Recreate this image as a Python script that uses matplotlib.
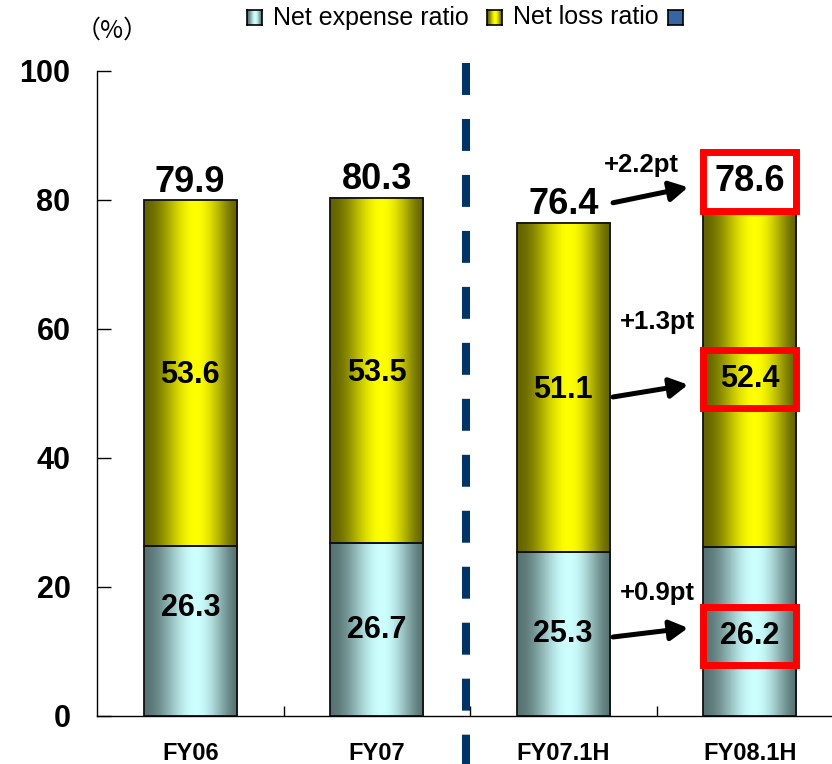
import numpy as np
import matplotlib
matplotlib.use("Agg")
import matplotlib.pyplot as plt
from matplotlib.patches import Rectangle
from matplotlib.patches import ArrowStyle

plt.rcParams["font.family"] = ["Liberation Sans", "DejaVu Sans"]
plt.rcParams["lines.scale_dashes"] = False

# ---- data ----
categories = ["FY06", "FY07", "FY07.1H", "FY08.1H"]
expense_ratio = [26.3, 26.7, 25.3, 26.2]
loss_ratio = [53.6, 53.5, 51.1, 52.4]
combined_ratio = [79.9, 80.3, 76.4, 78.6]
change_labels = ["+2.2pt", "+1.3pt", "+0.9pt"]
legend_labels = ["Net expense ratio", "Net loss ratio", ""]
yticks = [0, 20, 40, 60, 80, 100]

W, H = 832, 764
fig = plt.figure(figsize=(W / 100, H / 100), dpi=100)
ax = fig.add_axes([97 / W, (H - 715.7) / H, 746 / W, (715.7 - 70.5) / H])

BAR_W = 0.5


def shade_row(edge, center, n=128, peak=0.55):
    u = np.linspace(0, 1, n)
    u = u ** (np.log(0.5) / np.log(peak))
    f = np.sin(np.pi * u) ** 1.6
    edge = np.array(edge) / 255.0
    center = np.array(center) / 255.0
    row = edge[None, :] + (center - edge)[None, :] * f[:, None]
    return row[None, :, :]


cyan_img = shade_row((88, 115, 115), (205, 255, 255))
yellow_img = shade_row((100, 100, 0), (255, 255, 0))


def shaded_bar(x, y0, h, img):
    x0, x1 = x - BAR_W / 2, x + BAR_W / 2
    ax.imshow(img, extent=[x0, x1, y0, y0 + h], aspect="auto",
              interpolation="bilinear", zorder=2)
    ax.add_patch(Rectangle((x0, y0), BAR_W, h, facecolor="none",
                           edgecolor="#111111", linewidth=1.3, zorder=3))


xs = np.arange(len(categories))
for i, x in enumerate(xs):
    shaded_bar(x, 0, expense_ratio[i], cyan_img)
    shaded_bar(x, expense_ratio[i], loss_ratio[i], yellow_img)

ax.set_xlim(-0.5, 3.5)
ax.set_ylim(0, 100)

# axes styling
for s in ("top", "right"):
    ax.spines[s].set_visible(False)
ax.spines["left"].set_linewidth(1.0)
ax.spines["bottom"].set_linewidth(1.0)
ax.set_yticks(yticks)
ax.set_yticklabels([str(v) for v in yticks], fontsize=22, fontweight="bold")
ax.tick_params(axis="y", direction="in", length=10, width=1, pad=19)
ax.set_xticks(xs)
ax.set_xticklabels(categories, fontsize=17, fontweight="bold")
ax.tick_params(axis="x", which="major", length=0, pad=19)
ax.set_xticks(xs[:-1] + 0.5, minor=True)
ax.tick_params(axis="x", which="minor", direction="in", length=7, width=1)

# segment labels (the latest bar is labelled inside its boxes below)
exp_lift = [3.5, 0, 0]
for i in range(3):
    x = xs[i]
    ax.text(x, expense_ratio[i] / 2 + exp_lift[i], f"{expense_ratio[i]:.1f}",
            ha="center", va="center", fontsize=22, fontweight="bold", zorder=5)
    ax.text(x, expense_ratio[i] + loss_ratio[i] / 2 - 0.3, f"{loss_ratio[i]:.1f}",
            ha="center", va="center", fontsize=22, fontweight="bold", zorder=5)

# combined ratio labels above the first three bars
for i in range(3):
    ax.annotate(f"{combined_ratio[i]:.1f}", (xs[i], combined_ratio[i]),
                xytext=(0, 6), textcoords="offset points", ha="center",
                va="baseline", fontsize=26, fontweight="bold", zorder=5)

# highlighted boxes on the latest half-year bar
last = xs[-1]
box_h = 9.1
box_centers = [82.75, expense_ratio[-1] + loss_ratio[-1] / 2 - 0.2, 12.35]
box_texts = [combined_ratio[-1], loss_ratio[-1], expense_ratio[-1]]
box_sizes = [26, 22, 22]
for k, (cy, val, fs) in enumerate(zip(box_centers, box_texts, box_sizes)):
    ax.add_patch(Rectangle((last - BAR_W / 2, cy - box_h / 2), BAR_W, box_h,
                           facecolor="white" if k == 0 else "none",
                           edgecolor="#ff0000", linewidth=5, zorder=6))
    ax.text(last, cy, f"{val:.1f}", ha="center", va="center", fontsize=fs,
            fontweight="bold", zorder=7)

# change arrows
arrow_style = ArrowStyle("-|>", head_length=0.9, head_width=0.5)
arrow_rows = [(79.5, 81.9), (49.4, 51.3), (12.2, 13.6)]
for (y_tail, y_tip) in arrow_rows:
    ax.annotate("", xy=(2.669, y_tip), xytext=(2.267, y_tail),
                arrowprops=dict(arrowstyle=arrow_style, color="black", lw=3.6,
                                mutation_scale=12, shrinkA=0, shrinkB=0),
                zorder=8, annotation_clip=False)
change_pos = [(2.417, 85.4), (2.503, 61.0), (2.503, 19.0)]
for (tx, ty), lab in zip(change_pos, change_labels):
    ax.text(tx, ty, lab, ha="center", va="center", fontsize=18.5,
            fontweight="bold", zorder=8)

# dashed divider between annual and half-year results
ax.plot([1.48, 1.48], [101.2, -7.5], color="#003366", linewidth=5.8,
        linestyle=(0, (23, 17.3)), solid_capstyle="butt",
        dash_capstyle="butt", clip_on=False, zorder=4)

# unit label
fig.text(112 / W, 1 - 31 / H, "（%）", ha="center", va="center", fontsize=18,
         family=["Noto Sans CJK JP", "DejaVu Sans"])

# legend row
legend_imgs = [cyan_img, yellow_img, None]
sq_x = [247, 487, 668]
for img, x0, lab in zip(legend_imgs, sq_x, legend_labels):
    lax = fig.add_axes([x0 / W, 1 - 25 / H, 15 / W, 15 / H])
    if img is not None:
        lax.imshow(img, extent=[0, 1, 0, 1], aspect="auto",
                   interpolation="bilinear")
    else:
        lax.set_facecolor("#3565a3")
    lax.set_xlim(0, 1)
    lax.set_ylim(0, 1)
    lax.set_xticks([])
    lax.set_yticks([])
    for sp in lax.spines.values():
        sp.set_linewidth(1.2)
        sp.set_color("black")
    if lab:
        fig.text((x0 + 26) / W, 1 - 17.5 / H, lab, ha="left", va="center",
                 fontsize=18)

fig.savefig("out.png", dpi=100)
